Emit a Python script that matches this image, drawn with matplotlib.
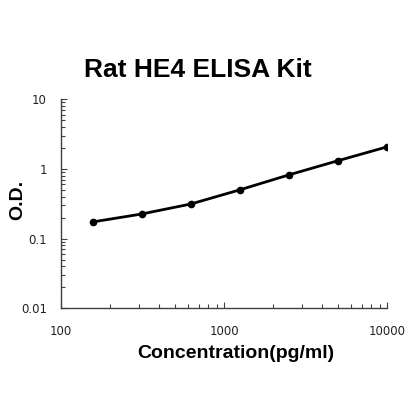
import numpy as np
import matplotlib
matplotlib.use("Agg")
import matplotlib.pyplot as plt
from matplotlib.ticker import FixedLocator, FixedFormatter, LogLocator, NullFormatter

conc = [156.25, 312.5, 625, 1250, 2500, 5000, 10000]
od = [0.173, 0.225, 0.313, 0.50, 0.82, 1.31, 2.07]

x_ticks = [100, 1000, 10000]
x_labels = ["100", "1000", "10000"]
y_ticks = [0.01, 0.1, 1, 10]
y_labels = ["0.01", "0.1", "1", "10"]

fig = plt.figure(figsize=(4.2, 4.2), dpi=100)
ax = fig.add_axes([0.145, 0.266, 0.777, 0.498])

ax.plot(conc, od, color="black", linewidth=2, marker="o", markersize=4.5)

ax.set_xscale("log")
ax.set_yscale("log")
ax.set_xlim(100, 10000)
ax.set_ylim(0.01, 10)

ax.xaxis.set_major_locator(FixedLocator(x_ticks))
ax.xaxis.set_major_formatter(FixedFormatter(x_labels))
ax.xaxis.set_minor_locator(LogLocator(base=10, subs=np.arange(2, 10)))
ax.xaxis.set_minor_formatter(NullFormatter())
ax.yaxis.set_major_locator(FixedLocator(y_ticks))
ax.yaxis.set_major_formatter(FixedFormatter(y_labels))
ax.yaxis.set_minor_locator(LogLocator(base=10, subs=np.arange(2, 10)))
ax.yaxis.set_minor_formatter(NullFormatter())

for side in ["top", "right"]:
    ax.spines[side].set_visible(False)
for side in ["left", "bottom"]:
    ax.spines[side].set_color("#404040")
    ax.spines[side].set_linewidth(1)

ax.tick_params(which="both", direction="in", color="#404040", width=0.8)
ax.tick_params(which="major", length=4)
ax.tick_params(which="minor", length=3)
ax.tick_params(axis="x", which="major", pad=12, labelsize=8.5, labelcolor="#222222")
ax.tick_params(axis="y", which="major", pad=10, labelsize=8.5, labelcolor="#222222")

bold = dict(family="Liberation Sans", weight="bold")
fig.text(236 / 420, 1 - 354 / 420, "Concentration(pg/ml)", ha="center", va="center",
         fontsize=14, **bold)
fig.text(18 / 420, 1 - 200 / 420, "O.D.", ha="center", va="center", rotation=90,
         fontsize=14, **bold)
fig.text(198 / 420, 1 - 70 / 420, "Rat HE4 ELISA Kit", ha="center", va="center",
         fontsize=19, **bold)

fig.savefig("out.png", dpi=100)
